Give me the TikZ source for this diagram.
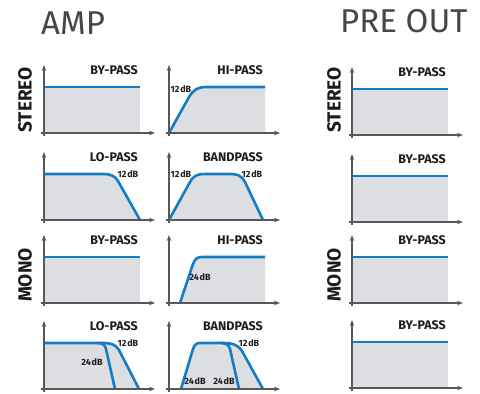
\documentclass[tikz,border=0pt]{standalone}
\usepackage{fontspec}
\setmainfont{Fira Sans}
\usetikzlibrary{arrows.meta}

\definecolor{curveblue}{RGB}{18,124,198}
\definecolor{areagray}{RGB}{221,222,225}
\definecolor{axisgray}{RGB}{88,88,88}
\definecolor{titlegray}{RGB}{70,70,70}
\definecolor{labelblack}{RGB}{28,28,28}
\newcommand{\dBlabel}[1]{#1\kern0.8pt dB}

\begin{document}
\begin{tikzpicture}[x=1pt, y=1pt, >={Stealth[length=6pt,width=4.5pt]},
  axis/.style={draw=axisgray, line width=1.4pt, ->},
  area/.style={fill=areagray},
  curve/.style={draw=curveblue, line width=2.6pt, line join=round},
  title/.style={font=\fontsize{33}{33}\selectfont, text=titlegray, anchor=base west, inner sep=0pt},
  side/.style={font=\bfseries\fontsize{19}{19}\selectfont, rotate=90, text=labelblack, inner sep=0pt},
  mode/.style={font=\bfseries\fontsize{12.5}{13}\selectfont, text=labelblack, anchor=base east, inner sep=0pt},
  slope/.style={font=\bfseries\fontsize{9}{9}\selectfont, text=labelblack, inner sep=0pt}]
  \useasboundingbox (0,0) rectangle (480,394);

  % headings
  \node[title] (amp) at (41,359) {AMP};
  \node[title] (preout) at (340,361) {PRE OUT};
  \node[side] (amp-stereo) at (25,294) {STEREO};
  \node[side] (amp-mono) at (25,119) {MONO};
  \node[side] (pre-stereo) at (334,294) {STEREO};
  \node[side] (pre-mono) at (334,119) {MONO};

  % flat responses
  \foreach \px/\py/\n in {44/261/a, 44/91/b, 352/259/c, 352/172/d, 352/91/e, 352/6/f} {
    \begin{scope}[shift={(\px,\py)}]
      \fill[area] (0,0) rectangle (96,46);
      \draw[curve] (0,46) -- (96,46);
      \node[mode] (bypass-\n) at (94,58) {BY-PASS};
    \end{scope}
  }

  % amp, stereo
  \begin{scope}[shift={(169,261)}]
    \fill[area] (0,0) -- (20,36) .. controls (25,44) and (29,46) .. (38,46) -- (96,46) -- (96,0) -- cycle;
    \draw[curve] (0,0) -- (20,36) .. controls (25,44) and (29,46) .. (38,46) -- (96,46);
    \node[mode] (hipass-a) at (94,58) {HI-PASS};
    \node[slope] (hipass-a-db) at (12,44) {\dBlabel{12}};
  \end{scope}
  \begin{scope}[shift={(44,174)}]
    \fill[area] (0,46) -- (59,46) .. controls (67,46) and (71,44) .. (74,39) -- (96,0) -- (0,0) -- cycle;
    \draw[curve] (0,46) -- (59,46) .. controls (67,46) and (71,44) .. (74,39) -- (96,0);
    \node[mode] (lopass-a) at (94,58) {LO-PASS};
    \node[slope] (lopass-a-db) at (84,46) {\dBlabel{12}};
  \end{scope}
  \begin{scope}[shift={(169,174)}]
    \fill[area] (0,0) -- (21,38) .. controls (25,45) and (29,46) .. (36,46) -- (61,46)
      .. controls (68,46) and (72,45) .. (76,38) -- (94,0) -- cycle;
    \draw[curve] (0,0) -- (21,38) .. controls (25,45) and (29,46) .. (36,46) -- (61,46)
      .. controls (68,46) and (72,45) .. (76,38) -- (94,0);
    \node[mode] (bandpass-a) at (94,58) {BANDPASS};
    \node[slope] (bandpass-a-lo) at (12,46) {\dBlabel{12}};
    \node[slope] (bandpass-a-hi) at (83,46) {\dBlabel{12}};
  \end{scope}

  % amp, mono
  \begin{scope}[shift={(169,91)}]
    \fill[area] (11,0) -- (24,39) .. controls (26,44) and (28,46) .. (33,46) -- (96,46) -- (96,0) -- cycle;
    \draw[curve] (11,0) -- (24,39) .. controls (26,44) and (28,46) .. (33,46) -- (96,46);
    \node[mode] (hipass-b) at (94,58) {HI-PASS};
    \node[slope] (hipass-b-db) at (31,26) {\dBlabel{24}};
  \end{scope}
  \begin{scope}[shift={(44,5)}]
    \fill[area] (0,46) -- (58,46) .. controls (67,46) and (71,45) .. (75,39) -- (95,0) -- (0,0) -- cycle;
    \draw[curve] (0,46) -- (58,46) .. controls (67,46) and (71,45) .. (75,39) -- (95,0);
    \draw[curve] (54,46) .. controls (59,46) and (61,44) .. (62,40) -- (71,0);
    \node[mode] (lopass-b) at (94,58) {LO-PASS};
    \node[slope] (lopass-b-12) at (84,46) {\dBlabel{12}};
    \node[slope] (lopass-b-24) at (48,27) {\dBlabel{24}};
  \end{scope}
  \begin{scope}[shift={(169,5)}]
    \fill[area] (12,0) -- (24,40) .. controls (25.5,44) and (27,46) .. (31,46) -- (54,46)
      .. controls (63,46) and (68,45) .. (73,38) -- (94,0) -- cycle;
    \draw[curve] (12,0) -- (24,40) .. controls (25.5,44) and (27,46) .. (31,46) -- (54,46)
      .. controls (63,46) and (68,45) .. (73,38) -- (94,0);
    \draw[curve] (52,46) .. controls (57,46) and (60,44) .. (61,40) -- (70,0);
    \node[mode] (bandpass-b) at (94,58) {BANDPASS};
    \node[slope] (bandpass-b-12) at (80,46) {\dBlabel{12}};
    \node[slope] (bandpass-b-lo) at (26,8) {\dBlabel{24}};
    \node[slope] (bandpass-b-hi) at (55,8) {\dBlabel{24}};
  \end{scope}

  % axes on top
  \foreach \px/\py in {44/261, 169/261, 44/174, 169/174, 44/91, 169/91, 44/5, 169/5,
                       352/259, 352/172, 352/91, 352/6} {
    \draw[axis] (\px-3,\py) -- ++(114,0);
    \draw[axis] (\px,\py-3) -- ++(0,71);
  }
\end{tikzpicture}
\end{document}
